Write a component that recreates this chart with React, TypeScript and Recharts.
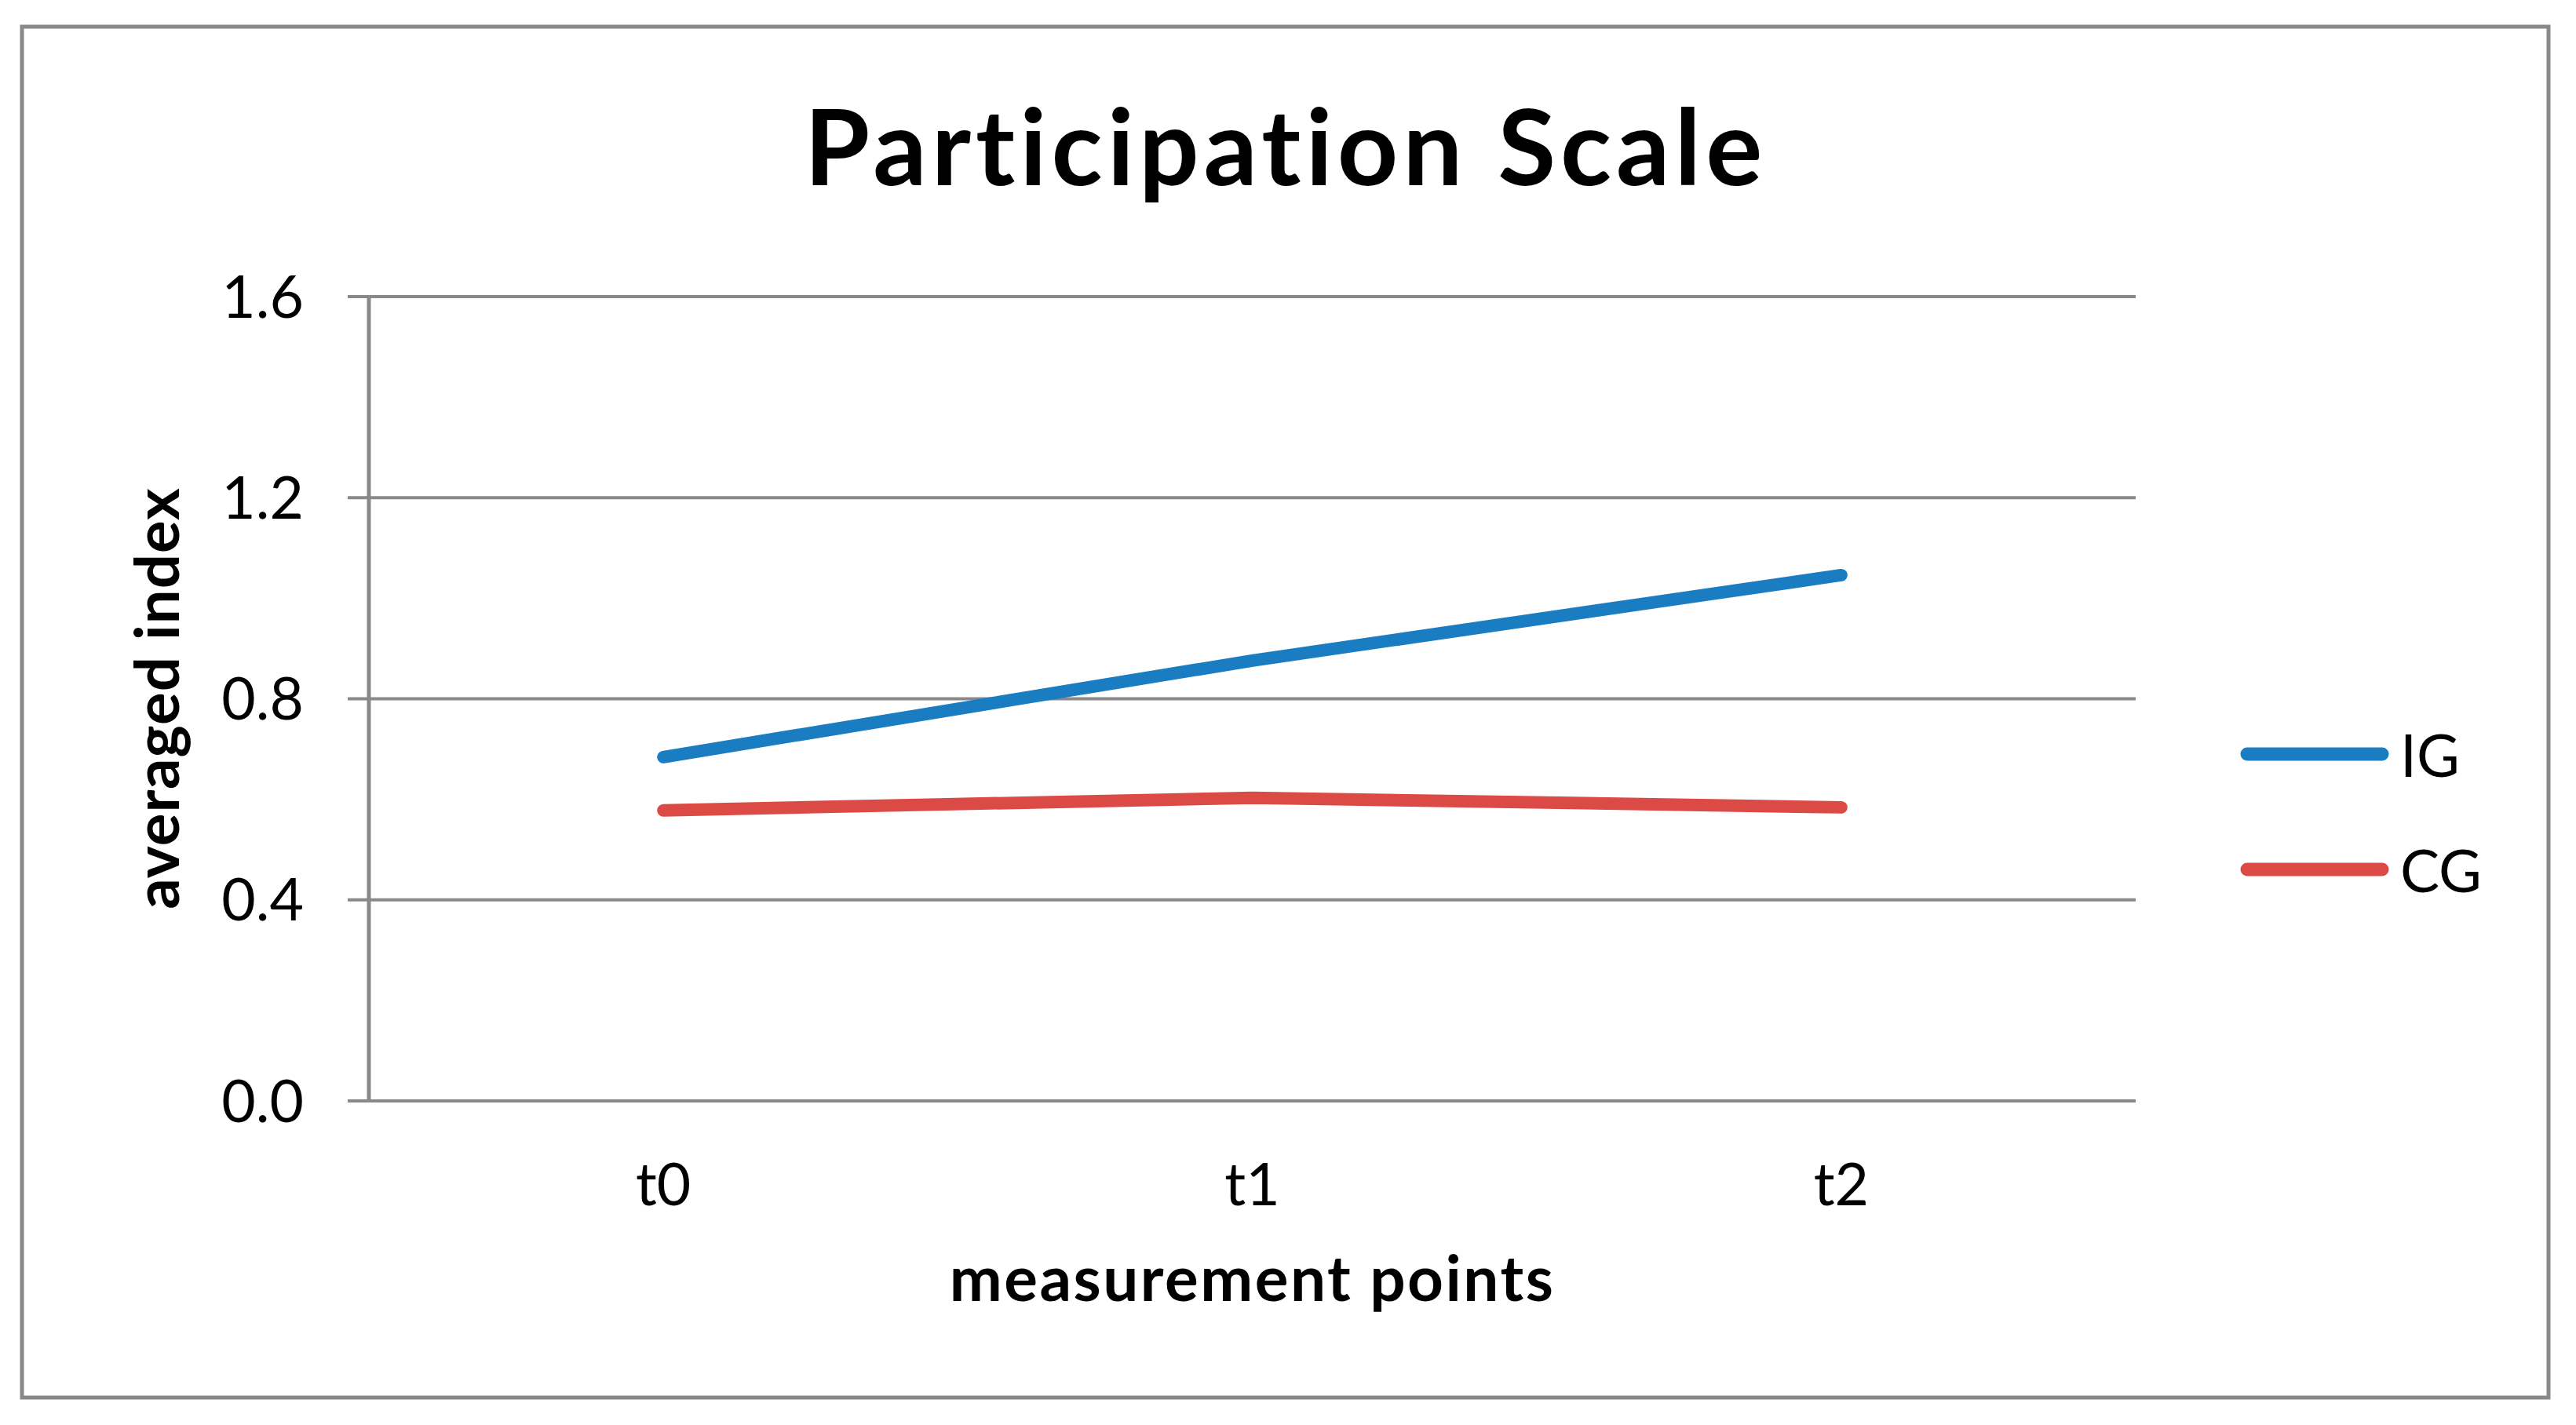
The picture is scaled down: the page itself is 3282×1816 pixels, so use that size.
import React from 'react';
import { LineChart, Line, XAxis, YAxis, CartesianGrid, Legend } from 'recharts';

const categories = ['t0', 't1', 't2'];
const igValues = [0.684, 0.876, 1.046];
const cgValues = [0.578, 0.603, 0.584];
const yTicks = [0, 0.4, 0.8, 1.2, 1.6];
const categoryTicks = [0, 1, 2];
const boundaryTicks = [-0.5, 0.5, 1.5, 2.5];
const seriesNames = ['IG', 'CG'];
const seriesColors = ['#1a7dc2', '#db4a45'];

const FONT = 'Lato, "Open Sans", sans-serif';
const GRID = '#898989';

const data = categories.map((name, i) => ({
  idx: i,
  name,
  IG: igValues[i],
  CG: cgValues[i],
}));

// keep the legend in series order (recharts sorts it by name otherwise)
const LegendBox = ({ payload }: any) => {
  const items = [...(payload || [])].sort(
    (a: any, b: any) => seriesNames.indexOf(a.value) - seriesNames.indexOf(b.value)
  );
  return (
    <div style={{ fontFamily: FONT }}>
      {items.map((p: any) => (
        <div key={p.value} style={{ display: 'flex', alignItems: 'center', height: 147 }}>
          <svg width={190} height={20}>
            <line x1={9} y1={10} x2={181} y2={10} stroke={p.color} strokeWidth={17} strokeLinecap="round" />
          </svg>
          <span style={{ fontSize: 75, marginLeft: 14, color: '#000' }}>{p.value}</span>
        </div>
      ))}
    </div>
  );
};

const YTitle = () => (
  <text
    x={228}
    y={890}
    transform="rotate(-90 228 890)"
    textAnchor="middle"
    fontFamily={FONT}
    fontWeight={700}
    fontSize={78}
    letterSpacing={1}
    fill="#000"
  >
    averaged index
  </text>
);

export default function App() {
  return (
    <div style={{ position: 'absolute', left: 0, top: 0, width: 3282, height: 1816, background: '#fff' }}>
      <svg width={3282} height={1816} style={{ position: 'absolute', left: 0, top: 0 }}>
        <rect x={28} y={34} width={3219} height={1747} fill="#fff" stroke={GRID} strokeWidth={5} />
        <text
          x={1638}
          y={236}
          textAnchor="middle"
          fontFamily={FONT}
          fontWeight={700}
          fontSize={135}
          letterSpacing={6}
          fill="#000"
        >
          Participation Scale
        </text>
      </svg>
      <div style={{ position: 'absolute', left: 0, top: 0 }}>
        <LineChart width={3282} height={1816} data={data} margin={{ top: 378, right: 561, bottom: 0, left: 0 }}>
          <XAxis
            xAxisId="frame"
            type="number"
            dataKey="idx"
            domain={[-0.5, 2.5]}
            ticks={boundaryTicks}
            interval={0}
            tick={false}
            tickSize={27}
            height={0}
            axisLine={{ stroke: GRID, strokeWidth: 6 }}
            tickLine={{ stroke: GRID, strokeWidth: 4 }}
          />
          <XAxis
            xAxisId="labels"
            type="number"
            dataKey="idx"
            domain={[-0.5, 2.5]}
            ticks={categoryTicks}
            interval={0}
            tickFormatter={(v: number) => categories[v]}
            tick={{ fill: '#000', fontSize: 75, fontFamily: FONT }}
            tickSize={0}
            tickMargin={80}
            height={413}
            axisLine={false}
            tickLine={false}
            label={{
              value: 'measurement points',
              position: 'insideBottom',
              offset: 158,
              fill: '#000',
              fontSize: 80,
              fontWeight: 700,
              letterSpacing: 2.5,
              fontFamily: FONT,
            }}
          />
          <YAxis
            domain={[0, 1.6]}
            ticks={yTicks}
            interval={0}
            width={470}
            tickFormatter={(v: number) => v.toFixed(1)}
            tick={{ fill: '#000', fontSize: 75, fontFamily: FONT }}
            tickSize={27}
            tickMargin={56}
            axisLine={{ stroke: GRID, strokeWidth: 5 }}
            tickLine={{ stroke: GRID, strokeWidth: 4 }}
            label={<YTitle />}
          />
          <CartesianGrid xAxisId="frame" vertical={false} stroke={GRID} strokeWidth={4} strokeOpacity={1} />
          {seriesNames.map((s, i) => (
            <Line
              key={s}
              xAxisId="labels"
              type="linear"
              dataKey={s}
              name={s}
              stroke={seriesColors[i]}
              strokeWidth={16}
              strokeLinecap="round"
              dot={false}
              activeDot={false}
              isAnimationActive={false}
            />
          ))}
          <Legend
            layout="vertical"
            align="center"
            verticalAlign="middle"
            content={<LegendBox />}
            wrapperStyle={{ position: 'absolute', left: 2854, top: 887, width: 400 }}
          />
        </LineChart>
      </div>
    </div>
  );
}
